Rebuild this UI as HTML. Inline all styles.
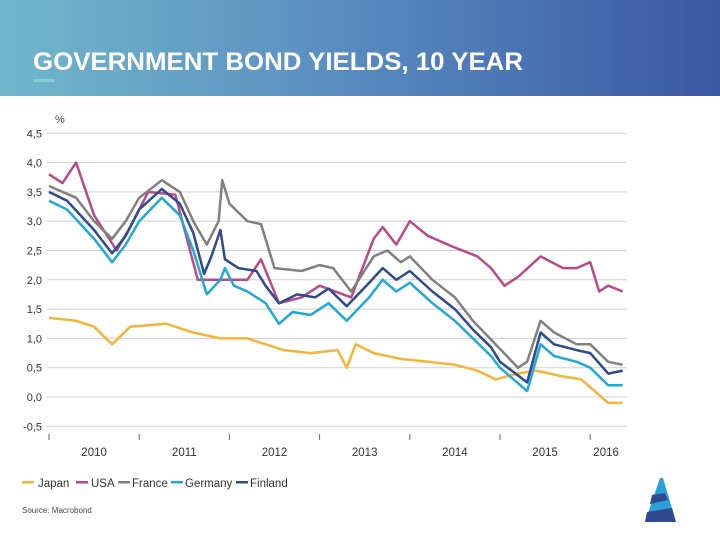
<!DOCTYPE html>
<html><head><meta charset="utf-8"><style>
body{margin:0;width:720px;height:540px;overflow:hidden;background:#fff;font-family:"Liberation Sans",sans-serif;}
</style></head><body>
<svg width="720" height="540" viewBox="0 0 720 540">
<defs><linearGradient id="hg" x1="0" x2="1" y1="0" y2="0"><stop offset="0" stop-color="#72b6cb"/><stop offset="0.45" stop-color="#5a8fc0"/><stop offset="1" stop-color="#3a58a6"/></linearGradient></defs>
<rect x="0" y="0" width="720" height="96" fill="url(#hg)"/>
<text x="33" y="70" font-size="25" font-weight="bold" fill="#fff" textLength="490" lengthAdjust="spacingAndGlyphs">GOVERNMENT BOND YIELDS, 10 YEAR</text>
<rect x="33" y="79" width="22" height="3" fill="#86cdd8"/>
<text x="55" y="123" font-size="11" fill="#444">%</text>
<g id="grid"></g><g id="lines"></g>
<g font-size="11.5" fill="#333">
<rect x="22" y="481" width="12" height="2.5" fill="#f4b43a"/><text x="38" y="487">Japan</text>
<rect x="76" y="481" width="12" height="2.5" fill="#b84a86"/><text x="91" y="487">USA</text>
<rect x="118" y="481" width="12" height="2.5" fill="#808080"/><text x="132" y="487">France</text>
<rect x="171" y="481" width="12" height="2.5" fill="#1fa8d8"/><text x="185" y="487">Germany</text>
<rect x="236" y="481" width="12" height="2.5" fill="#2f4a8e"/><text x="250" y="487">Finland</text>
</g>
<text x="22" y="513" font-size="8" fill="#444">Source: Macrobond</text>
<g>
<polygon points="660,478 663,478 676,522 645,522" fill="#2a9fdc"/>
<polygon points="652,495 665,493 668,500 650,504" fill="#2f4a8e"/>
<polygon points="647,512 672,508 676,522 645,522" fill="#2f4a8e"/>
</g>
</svg>
<script>
const yTicks=[4.5,4.0,3.5,3.0,2.5,2.0,1.5,1.0,0.5,0.0,-0.5];
const yTickLabels=["4,5","4,0","3,5","3,0","2,5","2,0","1,5","1,0","0,5","0,0","-0,5"];
const xYears=[2010,2011,2012,2013,2014,2015,2016];
const japanT=[2010.0,2010.3,2010.5,2010.7,2010.9,2011.3,2011.6,2011.9,2012.2,2012.6,2012.9,2013.2,2013.3,2013.4,2013.6,2013.9,2014.2,2014.5,2014.75,2014.95,2015.2,2015.4,2015.7,2015.9,2016.05,2016.2,2016.36];
const japanV=[1.35,1.3,1.2,0.9,1.2,1.25,1.1,1.0,1.0,0.8,0.75,0.8,0.5,0.9,0.75,0.65,0.6,0.55,0.45,0.3,0.4,0.45,0.35,0.3,0.1,-0.1,-0.1];
const usaT=[2010.0,2010.15,2010.3,2010.5,2010.75,2010.9,2011.1,2011.4,2011.65,2011.9,2012.2,2012.35,2012.55,2012.8,2013.0,2013.35,2013.6,2013.7,2013.85,2014.0,2014.2,2014.5,2014.75,2014.9,2015.05,2015.2,2015.45,2015.7,2015.85,2016.0,2016.1,2016.2,2016.36];
const usaV=[3.8,3.65,4.0,3.1,2.5,2.9,3.5,3.45,2.0,2.0,2.0,2.35,1.6,1.7,1.9,1.7,2.7,2.9,2.6,3.0,2.75,2.55,2.4,2.2,1.9,2.05,2.4,2.2,2.2,2.3,1.8,1.9,1.8];
const franceT=[2010.0,2010.3,2010.5,2010.7,2010.85,2011.0,2011.25,2011.45,2011.6,2011.75,2011.88,2011.92,2012.0,2012.2,2012.35,2012.5,2012.8,2013.0,2013.15,2013.35,2013.6,2013.75,2013.9,2014.0,2014.25,2014.5,2014.7,2014.95,2015.2,2015.3,2015.45,2015.6,2015.85,2016.0,2016.2,2016.36];
const franceV=[3.6,3.4,3.0,2.7,3.0,3.4,3.7,3.5,3.0,2.6,3.0,3.7,3.3,3.0,2.95,2.2,2.15,2.25,2.2,1.8,2.4,2.5,2.3,2.4,2.0,1.7,1.3,0.9,0.5,0.6,1.3,1.1,0.9,0.9,0.6,0.55];
const germanyT=[2010.0,2010.2,2010.5,2010.7,2010.85,2011.0,2011.25,2011.45,2011.6,2011.75,2011.9,2011.95,2012.05,2012.2,2012.4,2012.55,2012.7,2012.9,2013.1,2013.3,2013.55,2013.7,2013.85,2014.0,2014.25,2014.5,2014.7,2014.9,2015.0,2015.3,2015.45,2015.6,2015.85,2016.0,2016.2,2016.36];
const germanyV=[3.35,3.2,2.7,2.3,2.6,3.0,3.4,3.1,2.5,1.75,2.0,2.2,1.9,1.8,1.6,1.25,1.45,1.4,1.6,1.3,1.7,2.0,1.8,1.95,1.6,1.3,1.0,0.7,0.5,0.1,0.9,0.7,0.6,0.5,0.2,0.2];
const finlandT=[2010.0,2010.2,2010.5,2010.7,2010.85,2011.0,2011.25,2011.45,2011.6,2011.72,2011.8,2011.9,2011.95,2012.1,2012.3,2012.4,2012.55,2012.75,2012.95,2013.1,2013.3,2013.55,2013.7,2013.85,2014.0,2014.25,2014.5,2014.7,2014.9,2015.0,2015.3,2015.45,2015.6,2015.85,2016.0,2016.2,2016.36];
const finlandV=[3.5,3.35,2.85,2.45,2.75,3.2,3.55,3.3,2.8,2.1,2.4,2.85,2.35,2.2,2.15,1.9,1.6,1.75,1.7,1.85,1.55,1.95,2.2,2.0,2.15,1.8,1.5,1.15,0.85,0.6,0.25,1.1,0.9,0.8,0.75,0.4,0.45];
const series=[["japan","#f4b43a",japanT,japanV],["usa","#b84a86",usaT,usaV],["france","#808080",franceT,franceV],["germany","#1fa8d8",germanyT,germanyV],["finland","#2f4a8e",finlandT,finlandV]];
const NS="http://www.w3.org/2000/svg";
function xs(t){return 49+(t-2010)*90.2;}
function ys(v){return 397-v*58.6;}
const grid=document.getElementById('grid');
yTicks.forEach((v,i)=>{
  const l=document.createElementNS(NS,'line');
  l.setAttribute('x1',47);l.setAttribute('x2',627);l.setAttribute('y1',ys(v));l.setAttribute('y2',ys(v));
  l.setAttribute('stroke','#d0d0d0');l.setAttribute('stroke-width','1');
  
  
  grid.appendChild(l);
  const t=document.createElementNS(NS,'text');
  t.setAttribute('x',42);t.setAttribute('y',ys(v)+4);t.setAttribute('text-anchor','end');
  t.setAttribute('font-size','11');t.setAttribute('fill','#333');t.textContent=yTickLabels[i];
  
  
  grid.appendChild(t);
});
xYears.forEach(y=>{
  const l=document.createElementNS(NS,'line');
  l.setAttribute('x1',xs(y));l.setAttribute('x2',xs(y));l.setAttribute('y1',434);l.setAttribute('y2',440);
  l.setAttribute('stroke','#666');
  
  
  grid.appendChild(l);
  const t=document.createElementNS(NS,'text');
  const cx=y===2016?(xs(2016)+622)/2:xs(y+0.5);
  t.setAttribute('x',cx);t.setAttribute('y',456);t.setAttribute('text-anchor','middle');
  t.setAttribute('font-size','11.5');t.setAttribute('fill','#333');t.textContent=y;
  
  
  grid.appendChild(t);
});
const lines=document.getElementById('lines');
series.forEach(s=>{
  const p=document.createElementNS(NS,'polyline');
  p.setAttribute('points',s[2].map((t,i)=>xs(t).toFixed(1)+','+ys(s[3][i]).toFixed(1)).join(' '));
  p.setAttribute('fill','none');p.setAttribute('stroke',s[1]);p.setAttribute('stroke-width','2.5');p.setAttribute('stroke-linejoin','round');
  
  
  lines.appendChild(p);
});
</script>
</body></html>
